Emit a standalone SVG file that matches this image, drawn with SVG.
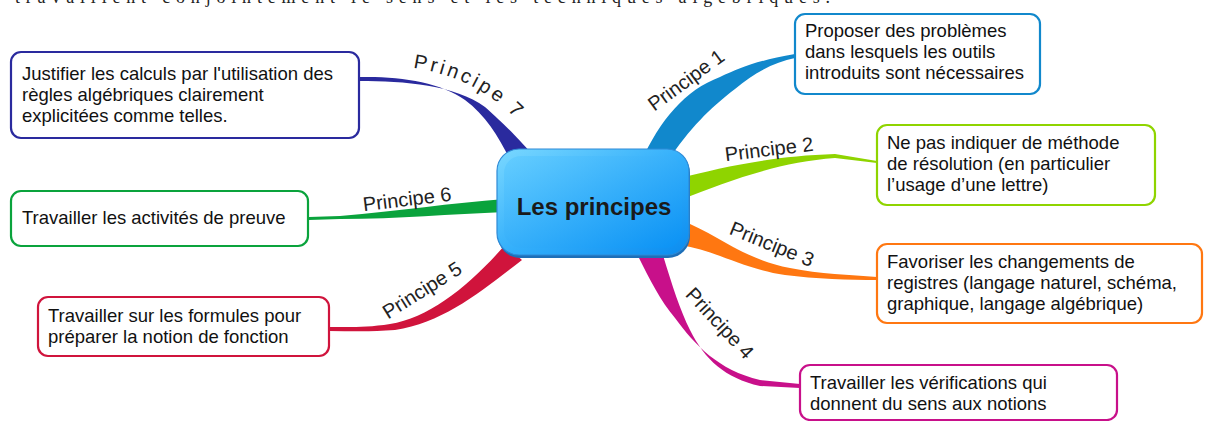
<svg xmlns="http://www.w3.org/2000/svg" xmlns:xlink="http://www.w3.org/1999/xlink" width="1209" height="421" viewBox="0 0 1209 421">
<style>
.leaf{fill:#fff;stroke-width:2.2}
.lt{font-family:"Liberation Sans",Arial,sans-serif;font-size:18.5px;fill:#111}
.lbl{font-family:"Liberation Sans",Arial,sans-serif;font-size:20px;fill:#222;text-anchor:middle}
.top{font-family:"Liberation Serif","Times New Roman",serif;font-size:18px;fill:#222}
</style>
<defs>
<linearGradient id="cg" x1="0" y1="0" x2="1" y2="1">
<stop offset="0" stop-color="#7ad8ff"/>
<stop offset="0.5" stop-color="#35b0fb"/>
<stop offset="1" stop-color="#0a8cf0"/>
</linearGradient>
<linearGradient id="cg2" x1="0" y1="0" x2="1" y2="1">
<stop offset="0" stop-color="#62ccff"/>
<stop offset="1" stop-color="#0a92f5"/>
</linearGradient>
<path id="p7path" d="M 413,68 Q 477,77 519,122 L 541,145"/>
</defs>
<text class="top" x="15" y="3" textLength="815" lengthAdjust="spacing">travaillent conjointement le sens et les techniques algébriques.</text>
<g id="connectors">
<path fill="#1188cc" d="M 641,162 C 660,120 685,90 720,77 C 740,68 755,61 795,54 L 795,58 C 775,62 755,72 735,89 C 710,108 690,128 667,162 Z"/>
<path fill="#8fd400" d="M 680,178 C 720,168 770,156 835,154 L 877,161 L 877,163 L 835,158 C 780,162 730,180 680,200 Z"/>
<path fill="#ff7711" d="M 680,220 C 720,235 740,258 790,268 C 820,274 850,275 877,277 L 877,280 C 850,280 815,279 785,275 C 740,268 715,250 680,245 Z"/>
<path fill="#c8108a" d="M 636,252 C 650,280 660,300 675,318 C 695,345 718,370 760,380 L 800,384 L 800,388 L 760,386 C 725,378 705,360 690,330 C 680,310 672,285 662,252 Z"/>
<path fill="#d0143c" d="M 505,245 C 470,285 430,318 390,324 C 365,328 345,327 329,327 L 329,331 C 350,331 370,332 395,330 C 445,322 480,292 522,260 Z"/>
<path fill="#0aa33c" d="M 505,199 C 450,203 400,211 340,216 L 309,217 L 309,220 L 340,219 C 400,219 450,214 505,212 Z"/>
<path fill="#2a2a9e" d="M 359,77 C 400,76 440,82 465,100 C 485,115 498,135 510,160 L 532,154 C 515,135 505,125 485,107 C 455,85 405,81 359,81 Z"/>
<text class="lbl" transform="translate(686,80) rotate(-36)" y="7">Principe 1</text>
<text class="lbl" transform="translate(769,149) rotate(-7)" y="7">Principe 2</text>
<text class="lbl" transform="translate(772,244) rotate(22)" y="7">Principe 3</text>
<text class="lbl" transform="translate(720,323) rotate(47)" y="7">Principe 4</text>
<text class="lbl" transform="translate(422,290) rotate(-32)" y="7">Principe 5</text>
<text class="lbl" transform="translate(407,199) rotate(-7)" y="7">Principe 6</text>
<text class="lbl" style="text-anchor:start;letter-spacing:3px"><textPath xlink:href="#p7path" href="#p7path">Principe 7</textPath></text>
</g>
<g id="center">
<rect x="498" y="151" width="192" height="107" rx="22" fill="#1d6fb8"/>
<rect x="497" y="149" width="192" height="106" rx="22" fill="url(#cg)" stroke="#2f8ad6" stroke-width="1.2"/>
<rect x="504" y="156" width="178" height="92" rx="17" fill="url(#cg2)" opacity="0.85"/>
<text x="594" y="215" font-family="'Liberation Sans',Arial,sans-serif" font-size="24" font-weight="bold" fill="#1a1a1a" text-anchor="middle">Les principes</text>
</g>
<g id="n1">
<rect class="leaf" x="795" y="14" width="245" height="80" rx="10" stroke="#1188cc"/>
<text class="lt" x="805" y="37">Proposer des problèmes</text>
<text class="lt" x="805" y="58">dans lesquels les outils</text>
<text class="lt" x="805" y="79">introduits sont nécessaires</text>
</g>
<g id="n2">
<rect class="leaf" x="877" y="125" width="278" height="80" rx="10" stroke="#8fd400"/>
<text class="lt" x="887" y="149">Ne pas indiquer de méthode</text>
<text class="lt" x="887" y="170">de résolution (en particulier</text>
<text class="lt" x="887" y="191">l’usage d’une lettre)</text>
</g>
<g id="n3">
<rect class="leaf" x="877" y="244" width="325" height="79" rx="10" stroke="#ff7711"/>
<text class="lt" x="887" y="268">Favoriser les changements de</text>
<text class="lt" x="887" y="289">registres (langage naturel, schéma,</text>
<text class="lt" x="887" y="310">graphique, langage algébrique)</text>
</g>
<g id="n4">
<rect class="leaf" x="800" y="365" width="317" height="55" rx="10" stroke="#c8108a"/>
<text class="lt" x="810" y="389">Travailler les vérifications qui</text>
<text class="lt" x="810" y="410">donnent du sens aux notions</text>
</g>
<g id="n5">
<rect class="leaf" x="38" y="297" width="291" height="59" rx="10" stroke="#d0143c"/>
<text class="lt" x="48" y="322">Travailler sur les formules pour</text>
<text class="lt" x="48" y="343">préparer la notion de fonction</text>
</g>
<g id="n6">
<rect class="leaf" x="11" y="191" width="297" height="55" rx="10" stroke="#0aa33c"/>
<text class="lt" x="22" y="224">Travailler les activités de preuve</text>
</g>
<g id="n7">
<rect class="leaf" x="11" y="52" width="348" height="86" rx="10" stroke="#2a2a9e"/>
<text class="lt" x="22" y="80">Justifier les calculs par l'utilisation des</text>
<text class="lt" x="22" y="101">règles algébriques clairement</text>
<text class="lt" x="22" y="122">explicitées comme telles.</text>
</g>
</svg>
